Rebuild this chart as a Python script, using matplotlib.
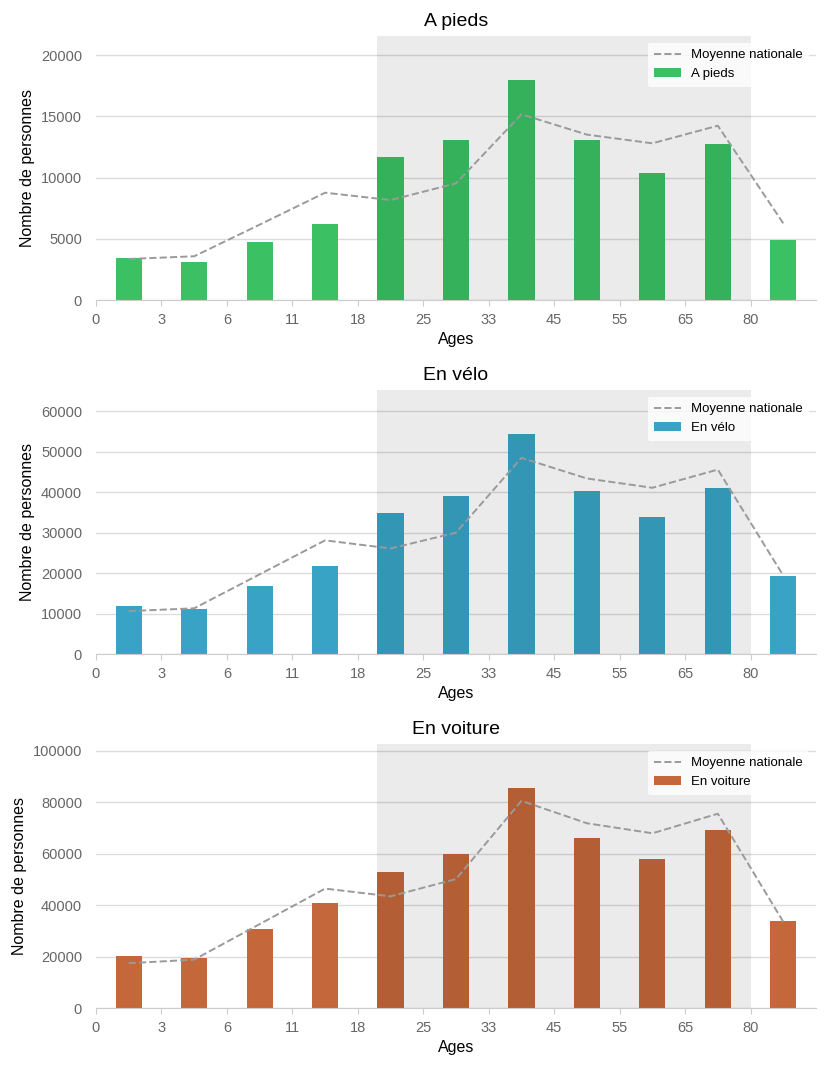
import numpy as np
import matplotlib
matplotlib.use("Agg")
import matplotlib.pyplot as plt
from matplotlib.ticker import MultipleLocator

plt.rcParams['font.family'] = ['Liberation Sans', 'DejaVu Sans']

# Data
#_____________
age_labels = ["0", "3", "6", "11", "18", "25", "33", "45", "55", "65", "80"]

pieds = [3430, 3100, 4730, 6200, 11670, 13060, 17960, 13060, 10370, 12730, 4900]
pieds_moy = [3350, 3570, 6150, 8760, 8160, 9520, 15160, 13500, 12790, 14230, 6260]

velo = [11800, 11050, 16700, 21750, 34860, 39060, 54400, 40300, 33870, 41040, 19280]
velo_moy = [10600, 11300, 19700, 28100, 26100, 30000, 48500, 43400, 41100, 45600, 19400]

voiture = [20200, 19400, 30700, 40800, 52900, 59900, 85500, 66100, 57900, 69200, 33800]
voiture_moy = [17400, 18800, 32600, 46400, 43400, 50100, 80500, 71800, 67900, 75500, 33500]

panels = [
    ("A pieds", pieds, pieds_moy, "#3bc163", 5000),
    ("En vélo", velo, velo_moy, "#38a3c5", 10000),
    ("En voiture", voiture, voiture_moy, "#c4673a", 20000),
]
#_____________

W, H = 827, 1067
fig = plt.figure(figsize=(W / 100, H / 100), dpi=100)

tops = [36, 390, 744]
ax_h = 264
left, right = 96, 816

x = np.arange(len(age_labels)) + 0.5

for (title, values, moyenne, color, ystep), top in zip(panels, tops):
    ax = fig.add_axes([left / W, 1 - (top + ax_h) / H, (right - left) / W, ax_h / H])
    ax.set_axisbelow(True)
    ax.grid(axis='y', color='#dcdcdc', linewidth=1)
    ax.bar(x, values, width=0.4, color=color, label=title, zorder=2)
    ax.plot(x, moyenne, linestyle='--', color='#9a9a9a', linewidth=1.4,
            label='Moyenne nationale', zorder=4)
    ax.axvspan(4.3, 10, color='black', alpha=0.08, linewidth=0, zorder=3)

    ax.set_xlim(0, 11)
    ax.set_ylim(0, max(values) * 1.2)
    ax.yaxis.set_major_locator(MultipleLocator(ystep))
    ax.set_xticks(np.arange(len(age_labels)))
    ax.set_xticklabels(age_labels)

    for side in ['top', 'right', 'left']:
        ax.spines[side].set_visible(False)
    ax.spines['bottom'].set_color('#cccccc')
    ax.tick_params(axis='x', colors='#cccccc', labelcolor='#666666', labelsize=10.5, length=4, pad=5)
    ax.tick_params(axis='y', length=0, labelcolor='#666666', labelsize=10.5, pad=10)

    ax.set_title(title, fontsize=14, pad=7)
    ax.set_xlabel("Ages", fontsize=11.5, labelpad=4)
    ax.set_ylabel("Nombre de personnes", fontsize=11.5)

    leg = ax.legend(loc='upper right', fontsize=9.5, framealpha=0.8,
                    edgecolor='none', facecolor='white', borderpad=0.5)
    leg.set_zorder(5)

fig.savefig("out.png", dpi=100)
